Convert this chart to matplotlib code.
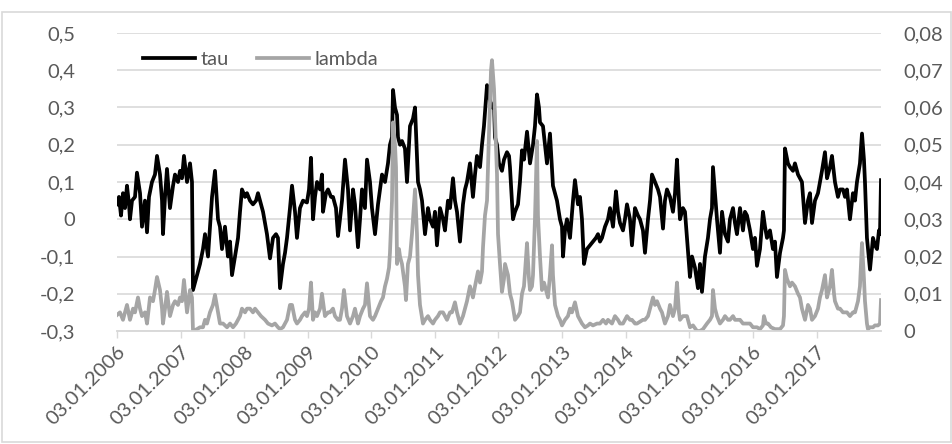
import matplotlib
matplotlib.use("Agg")
import matplotlib.pyplot as plt
import matplotlib.dates as mdates
import numpy as np
from datetime import datetime

# years elapsed since 03.01.2006 and the tau values
tau_t = [0.000, 0.031, 0.063, 0.094, 0.126, 0.157, 0.189, 0.204, 0.236, 0.283,
         0.314, 0.362, 0.393, 0.440, 0.472, 0.503, 0.550, 0.597, 0.629, 0.676,
         0.708, 0.723, 0.755, 0.786, 0.833, 0.881, 0.912, 0.959, 0.991, 1.022,
         1.053, 1.101, 1.148, 1.179, 1.195, 1.258, 1.305, 1.352, 1.384, 1.431,
         1.462, 1.494, 1.541, 1.588, 1.619, 1.651, 1.698, 1.745, 1.777, 1.808,
         1.855, 1.903, 1.934, 1.965, 2.013, 2.044, 2.091, 2.138, 2.186, 2.217,
         2.264, 2.296, 2.358, 2.406, 2.453, 2.500, 2.531, 2.563, 2.610, 2.642,
         2.673, 2.720, 2.752, 2.799, 2.830, 2.877, 2.925, 2.987, 3.019, 3.050,
         3.082, 3.113, 3.145, 3.192, 3.223, 3.239, 3.286, 3.318, 3.365, 3.396,
         3.443, 3.475, 3.506, 3.538, 3.585, 3.632, 3.664, 3.711, 3.742, 3.789,
         3.821, 3.852, 3.899, 3.931, 3.978, 4.009, 4.057, 4.104, 4.167, 4.214,
         4.261, 4.292, 4.324, 4.340, 4.371, 4.403, 4.418, 4.450, 4.481, 4.528,
         4.560, 4.607, 4.654, 4.686, 4.733, 4.764, 4.796, 4.843, 4.890, 4.921,
         4.969, 5.000, 5.031, 5.079, 5.126, 5.157, 5.204, 5.236, 5.283, 5.314,
         5.346, 5.393, 5.440, 5.472, 5.503, 5.550, 5.597, 5.629, 5.660, 5.708,
         5.739, 5.770, 5.818, 5.849, 5.896, 5.928, 5.943, 5.975, 6.006, 6.053,
         6.085, 6.132, 6.164, 6.179, 6.226, 6.258, 6.305, 6.336, 6.368, 6.399,
         6.447, 6.494, 6.541, 6.572, 6.604, 6.635, 6.651, 6.698, 6.730, 6.761,
         6.808, 6.855, 6.887, 6.918, 6.965, 6.997, 7.013, 7.044, 7.075, 7.123,
         7.170, 7.201, 7.248, 7.280, 7.311, 7.343, 7.390, 7.437, 7.484, 7.531,
         7.563, 7.594, 7.626, 7.673, 7.720, 7.752, 7.799, 7.846, 7.877, 7.909,
         7.956, 7.987, 8.019, 8.066, 8.097, 8.145, 8.192, 8.223, 8.270, 8.302,
         8.349, 8.381, 8.412, 8.459, 8.506, 8.538, 8.585, 8.616, 8.648, 8.695,
         8.742, 8.774, 8.805, 8.836, 8.852, 8.899, 8.931, 8.962, 9.009, 9.041,
         9.088, 9.135, 9.167, 9.198, 9.245, 9.292, 9.324, 9.355, 9.371, 9.403,
         9.434, 9.481, 9.513, 9.560, 9.607, 9.638, 9.686, 9.717, 9.748, 9.796,
         9.843, 9.874, 9.906, 9.953, 10.000, 10.031, 10.063, 10.110, 10.157, 10.189,
         10.220, 10.267, 10.314, 10.346, 10.377, 10.425, 10.472, 10.487, 10.503, 10.550,
         10.582, 10.629, 10.660, 10.708, 10.739, 10.770, 10.818, 10.865, 10.896, 10.928,
         10.975, 11.022, 11.053, 11.085, 11.132, 11.164, 11.179, 11.211, 11.242, 11.289,
         11.336, 11.368, 11.415, 11.447, 11.478, 11.525, 11.572, 11.604, 11.635, 11.682,
         11.714, 11.745, 11.761, 11.792, 11.840, 11.871, 11.887, 11.918, 11.950, 11.981,
         11.997, 12.013]
tau = [0.04, 0.06, 0.01, 0.07, 0.03, 0.09, 0.04, 0.0, 0.05, 0.06,
       0.125, 0.07, -0.02, 0.05, -0.035, 0.06, 0.1, 0.12, 0.17, 0.12,
       0.05, -0.04, 0.06, 0.135, 0.03, 0.09, 0.12, 0.1, 0.13, 0.11,
       0.17, 0.1, 0.15, 0.1, -0.19, -0.15, -0.12, -0.08, -0.04, -0.1,
       -0.02, 0.06, 0.13, 0.0, -0.02, -0.08, -0.02, -0.1, -0.06, -0.15,
       -0.1, -0.05, 0.02, 0.08, 0.06, 0.07, 0.05, 0.04, 0.05, 0.07,
       0.04, 0.02, -0.04, -0.105, -0.05, -0.04, -0.05, -0.185, -0.12, -0.09,
       -0.05, 0.03, 0.09, 0.02, -0.05, 0.03, 0.05, 0.045, 0.08, 0.165,
       0.0, 0.06, 0.1, 0.08, 0.12, 0.02, 0.07, 0.08, 0.06, 0.06,
       0.03, -0.045, 0.0, 0.05, 0.16, 0.08, -0.03, 0.08, 0.04, -0.075,
       0.0, 0.08, 0.03, 0.16, 0.1, 0.03, -0.04, 0.04, 0.12, 0.1,
       0.15, 0.2, 0.22, 0.347, 0.3, 0.28, 0.22, 0.2, 0.21, 0.19,
       0.1, 0.25, 0.27, 0.3, 0.1, 0.08, 0.05, -0.04, 0.03, 0.0,
       -0.02, 0.02, -0.07, 0.03, 0.0, -0.03, 0.05, 0.03, 0.11, 0.05,
       0.02, -0.06, 0.04, 0.08, 0.1, 0.15, 0.06, 0.12, 0.17, 0.14,
       0.2, 0.25, 0.36, 0.33, 0.3, 0.31, 0.22, 0.2, 0.15, 0.13,
       0.16, 0.18, 0.17, 0.14, 0.0, 0.02, 0.04, 0.1, 0.185, 0.16,
       0.235, 0.15, 0.2, 0.25, 0.335, 0.3, 0.26, 0.25, 0.2, 0.15,
       0.23, 0.09, 0.07, 0.05, 0.0, -0.02, -0.1, -0.03, 0.0, -0.05,
       0.05, 0.105, 0.04, 0.06, 0.0, -0.12, -0.08, -0.07, -0.06, -0.05,
       -0.04, -0.06, -0.05, -0.02, 0.0, 0.03, -0.02, 0.075, 0.02, -0.01,
       -0.03, 0.0, 0.04, 0.0, -0.07, 0.03, 0.01, 0.0, -0.03, -0.09,
       0.0, 0.05, 0.12, 0.1, 0.08, 0.06, -0.025, 0.05, 0.08, 0.06,
       0.02, 0.07, 0.16, 0.05, 0.0, 0.03, 0.02, -0.05, -0.155, -0.1,
       -0.13, -0.185, -0.12, -0.195, -0.1, -0.05, 0.0, 0.03, 0.14, 0.07,
       0.0, -0.09, 0.02, -0.04, -0.06, 0.0, 0.03, -0.01, -0.04, 0.03,
       -0.03, 0.02, 0.01, -0.03, -0.08, -0.05, -0.125, -0.08, 0.02, -0.02,
       -0.05, -0.03, -0.08, -0.06, -0.155, -0.09, -0.05, -0.03, 0.19, 0.15,
       0.14, 0.13, 0.15, 0.12, 0.11, 0.1, -0.01, 0.05, 0.07, -0.01,
       0.05, 0.07, 0.1, 0.13, 0.18, 0.11, 0.12, 0.14, 0.17, 0.1,
       0.06, 0.08, 0.08, 0.06, 0.08, 0.0, 0.07, 0.05, 0.1, 0.15,
       0.23, 0.16, 0.1, -0.05, -0.135, -0.08, -0.05, -0.07, -0.08, -0.03,
       -0.04, 0.105]

# years elapsed since 03.01.2006 and the lambda values
lam_t = [0.000, 0.047, 0.094, 0.126, 0.157, 0.204, 0.252, 0.283, 0.330, 0.362,
         0.393, 0.440, 0.472, 0.519, 0.566, 0.597, 0.629, 0.676, 0.708, 0.723,
         0.755, 0.786, 0.833, 0.881, 0.912, 0.959, 0.991, 1.022, 1.053, 1.101,
         1.148, 1.179, 1.195, 1.258, 1.305, 1.352, 1.384, 1.415, 1.462, 1.509,
         1.541, 1.588, 1.619, 1.667, 1.730, 1.777, 1.824, 1.871, 1.934, 1.965,
         2.013, 2.044, 2.091, 2.138, 2.170, 2.217, 2.264, 2.327, 2.374, 2.437,
         2.484, 2.531, 2.563, 2.610, 2.642, 2.673, 2.720, 2.752, 2.799, 2.830,
         2.877, 2.909, 2.956, 2.987, 3.019, 3.050, 3.082, 3.113, 3.145, 3.192,
         3.223, 3.270, 3.318, 3.349, 3.396, 3.428, 3.475, 3.506, 3.538, 3.569,
         3.616, 3.664, 3.711, 3.742, 3.789, 3.821, 3.868, 3.899, 3.931, 3.978,
         4.025, 4.057, 4.104, 4.151, 4.182, 4.214, 4.245, 4.277, 4.292, 4.324,
         4.340, 4.371, 4.387, 4.403, 4.434, 4.450, 4.481, 4.497, 4.528, 4.544,
         4.575, 4.607, 4.638, 4.670, 4.686, 4.717, 4.733, 4.764, 4.811, 4.843,
         4.890, 4.921, 4.969, 5.000, 5.047, 5.079, 5.126, 5.157, 5.189, 5.236,
         5.267, 5.314, 5.346, 5.393, 5.440, 5.472, 5.503, 5.550, 5.597, 5.629,
         5.676, 5.708, 5.739, 5.755, 5.786, 5.818, 5.849, 5.881, 5.896, 5.928,
         5.943, 5.975, 5.991, 6.022, 6.053, 6.085, 6.101, 6.132, 6.148, 6.179,
         6.211, 6.258, 6.305, 6.336, 6.368, 6.399, 6.415, 6.447, 6.478, 6.494,
         6.525, 6.541, 6.572, 6.604, 6.619, 6.651, 6.682, 6.714, 6.730, 6.777,
         6.808, 6.840, 6.855, 6.887, 6.934, 6.965, 6.997, 7.044, 7.091, 7.123,
         7.154, 7.201, 7.248, 7.280, 7.311, 7.358, 7.406, 7.437, 7.484, 7.547,
         7.594, 7.642, 7.689, 7.720, 7.783, 7.830, 7.877, 7.909, 7.956, 7.987,
         8.019, 8.066, 8.097, 8.145, 8.176, 8.223, 8.270, 8.302, 8.349, 8.381,
         8.428, 8.459, 8.491, 8.538, 8.569, 8.616, 8.664, 8.695, 8.742, 8.774,
         8.805, 8.836, 8.852, 8.899, 8.931, 8.962, 9.009, 9.057, 9.119, 9.167,
         9.214, 9.277, 9.324, 9.355, 9.371, 9.403, 9.434, 9.481, 9.528, 9.560,
         9.607, 9.638, 9.686, 9.717, 9.748, 9.796, 9.843, 9.906, 9.953, 10.000,
         10.063, 10.110, 10.157, 10.173, 10.204, 10.236, 10.283, 10.346, 10.425, 10.472,
         10.487, 10.503, 10.535, 10.582, 10.613, 10.660, 10.708, 10.739, 10.770, 10.818,
         10.865, 10.896, 10.928, 10.975, 11.022, 11.053, 11.085, 11.132, 11.164, 11.179,
         11.211, 11.242, 11.274, 11.289, 11.336, 11.368, 11.415, 11.447, 11.478, 11.525,
         11.572, 11.604, 11.651, 11.682, 11.714, 11.745, 11.761, 11.792, 11.808, 11.840,
         11.887, 11.918, 11.965, 11.997, 12.013]
lam = [0.0043, 0.005, 0.003, 0.005, 0.007, 0.003, 0.006, 0.005, 0.009, 0.006,
       0.004, 0.005, 0.002, 0.009, 0.008, 0.011, 0.0145, 0.011, 0.006, 0.002,
       0.006, 0.0105, 0.004, 0.007, 0.008, 0.007, 0.009, 0.008, 0.0137, 0.005,
       0.011, 0.009, 0.0, 0.0005, 0.001, 0.001, 0.003, 0.002, 0.005, 0.007,
       0.0097, 0.005, 0.002, 0.002, 0.001, 0.002, 0.001, 0.002, 0.004, 0.006,
       0.005, 0.006, 0.006, 0.005, 0.006, 0.005, 0.004, 0.003, 0.002, 0.0015,
       0.002, 0.001, 0.0005, 0.001, 0.002, 0.003, 0.007, 0.007, 0.003, 0.002,
       0.003, 0.004, 0.005, 0.004, 0.006, 0.013, 0.003, 0.005, 0.004, 0.006,
       0.010, 0.004, 0.005, 0.005, 0.006, 0.004, 0.003, 0.003, 0.006, 0.011,
       0.004, 0.002, 0.004, 0.006, 0.002, 0.004, 0.006, 0.007, 0.0128, 0.004,
       0.003, 0.004, 0.006, 0.008, 0.009, 0.012, 0.014, 0.017, 0.021, 0.035,
       0.056, 0.05, 0.044, 0.018, 0.022, 0.02, 0.018, 0.016, 0.012, 0.0083,
       0.018, 0.02, 0.026, 0.034, 0.038, 0.026, 0.015, 0.007, 0.002, 0.003,
       0.004, 0.003, 0.002, 0.003, 0.004, 0.005, 0.005, 0.004, 0.003, 0.005,
       0.005, 0.0077, 0.005, 0.002, 0.004, 0.006, 0.008, 0.012, 0.009, 0.012,
       0.016, 0.013, 0.016, 0.0225, 0.031, 0.035, 0.053, 0.07, 0.0727, 0.065,
       0.0575, 0.042, 0.026, 0.018, 0.0105, 0.014, 0.018, 0.016, 0.015, 0.01,
       0.008, 0.003, 0.004, 0.005, 0.01, 0.012, 0.0157, 0.0236, 0.014, 0.011,
       0.012, 0.015, 0.03, 0.051, 0.031, 0.02, 0.011, 0.013, 0.012, 0.009,
       0.015, 0.023, 0.015, 0.007, 0.004, 0.003, 0.0015, 0.003, 0.004, 0.006,
       0.005, 0.0077, 0.004, 0.003, 0.002, 0.001, 0.0015, 0.002, 0.0015, 0.002,
       0.002, 0.003, 0.002, 0.003, 0.002, 0.004, 0.003, 0.002, 0.002, 0.003,
       0.004, 0.003, 0.003, 0.002, 0.002, 0.0025, 0.003, 0.003, 0.004, 0.006,
       0.009, 0.007, 0.008, 0.006, 0.005, 0.002, 0.004, 0.007, 0.004, 0.006,
       0.013, 0.005, 0.003, 0.004, 0.004, 0.004, 0.001, 0.0015, 0.0, 0.0,
       0.0005, 0.002, 0.003, 0.004, 0.011, 0.006, 0.004, 0.002, 0.003, 0.004,
       0.003, 0.003, 0.004, 0.003, 0.003, 0.003, 0.002, 0.002, 0.002, 0.001,
       0.001, 0.0005, 0.0015, 0.004, 0.002, 0.002, 0.001, 0.0005, 0.0005, 0.0015,
       0.004, 0.0164, 0.014, 0.012, 0.013, 0.012, 0.010, 0.009, 0.006, 0.003,
       0.007, 0.006, 0.003, 0.004, 0.006, 0.009, 0.011, 0.015, 0.009, 0.010,
       0.012, 0.0164, 0.01, 0.008, 0.006, 0.006, 0.005, 0.005, 0.005, 0.004,
       0.005, 0.005, 0.008, 0.012, 0.0236, 0.014, 0.008, 0.002, 0.0005, 0.001,
       0.001, 0.0015, 0.0015, 0.002, 0.0083]

years = list(range(2006, 2018))
x_labels = ["03.01.%d" % y for y in years]
left_ticks = [0.5, 0.4, 0.3, 0.2, 0.1, 0, -0.1, -0.2, -0.3]
left_labels = ["0,5", "0,4", "0,3", "0,2", "0,1", "0", "-0,1", "-0,2", "-0,3"]
right_ticks = [0.08, 0.07, 0.06, 0.05, 0.04, 0.03, 0.02, 0.01, 0]
right_labels = ["0,08", "0,07", "0,06", "0,05", "0,04", "0,03", "0,02", "0,01", "0"]

plt.rcParams['font.family'] = ['Lato', 'DejaVu Sans']
plt.rcParams['font.size'] = 14.5
txt = "#595959"

start = mdates.date2num(datetime(2006, 1, 3))
x_tau = start + np.array(tau_t) * 365.25
x_lam = start + np.array(lam_t) * 365.25

fig = plt.figure(figsize=(9.53, 4.44), dpi=100)
ax = fig.add_axes([117 / 953, 1 - 331 / 444, 764 / 953, 298 / 444])
ax2 = ax.twinx()

ax.plot(x_tau, tau, color="black", lw=2.7, label="tau", solid_joinstyle="round")
ax2.plot(x_lam, lam, color="#a5a5a5", lw=2.7, label="lambda", solid_joinstyle="round")

ax.set_ylim(-0.3, 0.5)
ax2.set_ylim(0, 0.08)
ax.set_xlim(x_tau[0], x_tau[-1])

ax.set_yticks(left_ticks)
ax.set_yticklabels(left_labels, color=txt)
ax2.set_yticks(right_ticks)
ax2.set_yticklabels(right_labels, color=txt)
ax.tick_params(axis="y", length=0, pad=30)
ax2.tick_params(axis="y", length=0, pad=16)

ax.set_xticks([mdates.date2num(datetime(y, 1, 3)) for y in years])
ax.set_xticklabels(x_labels, rotation=45, ha="right", rotation_mode="anchor", color=txt)
ax.tick_params(axis="x", length=5, width=1, color="#d9d9d9", pad=4)

ax.grid(axis="y", color="#d9d9d9", lw=1.2)
ax.set_axisbelow(True)
for a in (ax, ax2):
    for s in ("left", "right", "top"):
        a.spines[s].set_visible(False)
    a.spines["bottom"].set_color("#d9d9d9")
    a.spines["bottom"].set_linewidth(1.2)

h1, l1 = ax.get_legend_handles_labels()
h2, l2 = ax2.get_legend_handles_labels()
ax2.legend(h1 + h2, l1 + l2, loc="upper left", bbox_to_anchor=(0.01, 1.0), ncol=2,
           frameon=False, handlelength=2.6, columnspacing=1.4, handletextpad=0.25,
           labelcolor=txt, fontsize=14.5)

fig.patches.append(plt.Rectangle((0.002, 0.005), 0.996, 0.968, transform=fig.transFigure,
                                 fill=False, edgecolor="#d9d9d9", lw=1.2))

fig.savefig("out.png", dpi=100)
